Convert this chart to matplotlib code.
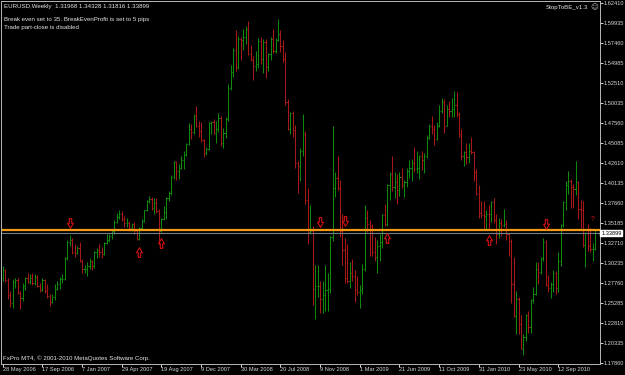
import matplotlib.pyplot as plt
from matplotlib.path import Path
from matplotlib import font_manager

# weekly EURUSD bars, week of 28 May 2006 onward
opens = [
    1.2835, 1.2930, 1.2805, 1.2620, 1.2520, 1.2785, 1.2805, 1.2650, 1.2590, 1.2730,
    1.2835, 1.2790, 1.2830, 1.2775, 1.2850, 1.2735, 1.2680, 1.2810, 1.2670, 1.2610,
    1.2535, 1.2595, 1.2700, 1.2760, 1.2820, 1.2825, 1.3085, 1.3285, 1.3300, 1.3150,
    1.3140, 1.3200, 1.3050, 1.2945, 1.2950, 1.2980, 1.3050, 1.2980, 1.3150, 1.3180,
    1.3150, 1.3125, 1.3270, 1.3300, 1.3360, 1.3415, 1.3530, 1.3590, 1.3630, 1.3560,
    1.3510, 1.3520, 1.3450, 1.3500, 1.3420, 1.3320, 1.3450, 1.3540, 1.3670, 1.3790,
    1.3810, 1.3700, 1.3760, 1.3660, 1.3420, 1.3570, 1.3650, 1.3830, 1.3890, 1.4090,
    1.4265, 1.4160, 1.4195, 1.4290, 1.4360, 1.4495, 1.4680, 1.4640, 1.4840, 1.4710,
    1.4650, 1.4540, 1.4380, 1.4430, 1.4750, 1.4760, 1.4630, 1.4680, 1.4820, 1.4510,
    1.4630, 1.4800, 1.5190, 1.5380, 1.5660, 1.5440, 1.5790, 1.5780, 1.5820, 1.5920,
    1.5600, 1.5530, 1.5460, 1.5480, 1.5770, 1.5540, 1.5750, 1.5440, 1.5600, 1.5790,
    1.5640, 1.5780, 1.5850, 1.5700, 1.5550, 1.5010, 1.4680, 1.4870, 1.4670, 1.4260,
    1.4220, 1.4410, 1.4620, 1.3800, 1.3400, 1.3420, 1.2700, 1.2730, 1.2740, 1.2580,
    1.2620, 1.2690, 1.2700, 1.3340, 1.3950, 1.4070, 1.3950, 1.3420, 1.3180, 1.2840,
    1.2800, 1.2900, 1.2860, 1.2680, 1.2660, 1.2680, 1.2950, 1.3580, 1.3500, 1.3480,
    1.3150, 1.3100, 1.3230, 1.3280, 1.3610, 1.3500, 1.3990, 1.4120, 1.3960, 1.4020,
    1.3920, 1.4080, 1.3980, 1.4020, 1.4160, 1.4190, 1.4260, 1.4180, 1.4200, 1.4340,
    1.4290, 1.4340, 1.4570, 1.4710, 1.4680, 1.4560, 1.4720, 1.4900, 1.5010, 1.4720,
    1.4920, 1.4900, 1.4920, 1.4970, 1.4860, 1.4620, 1.4340, 1.4390, 1.4330, 1.4410,
    1.4390, 1.4140, 1.3870, 1.3640, 1.3610, 1.3600, 1.3630, 1.3620, 1.3770, 1.3550,
    1.3380, 1.3520, 1.3490, 1.3500, 1.3380, 1.3290, 1.2760, 1.2360, 1.2580, 1.2270,
    1.1960, 1.2110, 1.2380, 1.2230, 1.2560, 1.2640, 1.2940, 1.2910, 1.3080, 1.3280,
    1.2750, 1.2710, 1.2760, 1.2890, 1.2710, 1.3050, 1.3490, 1.3780, 1.3980, 1.4040,
    1.3960, 1.3940, 1.4020, 1.3690, 1.3670, 1.3240, 1.3390, 1.3230, 1.3190, 1.31968,
]
highs = [
    1.2980, 1.2950, 1.2830, 1.2675, 1.2820, 1.2840, 1.2830, 1.2670, 1.2770, 1.2850,
    1.2900, 1.2880, 1.2890, 1.2880, 1.2870, 1.2770, 1.2830, 1.2820, 1.2760, 1.2640,
    1.2630, 1.2760, 1.2800, 1.2850, 1.2880, 1.3100, 1.3310, 1.3367, 1.3330, 1.3250,
    1.3230, 1.3275, 1.3070, 1.2990, 1.3030, 1.3080, 1.3060, 1.3170, 1.3200, 1.3250,
    1.3220, 1.3280, 1.3380, 1.3380, 1.3420, 1.3550, 1.3640, 1.3680, 1.3660, 1.3600,
    1.3580, 1.3540, 1.3520, 1.3530, 1.3440, 1.3460, 1.3560, 1.3680, 1.3800, 1.3850,
    1.3840, 1.3830, 1.3820, 1.3690, 1.3580, 1.3720, 1.3840, 1.3910, 1.4110, 1.4280,
    1.4280, 1.4240, 1.4350, 1.4400, 1.4500, 1.4750, 1.4740, 1.4860, 1.4966, 1.4780,
    1.4760, 1.4550, 1.4450, 1.4770, 1.4780, 1.4800, 1.4780, 1.4870, 1.4840, 1.4690,
    1.4830, 1.5240, 1.5470, 1.5680, 1.5900, 1.5830, 1.5820, 1.5910, 1.5950, 1.6020,
    1.5720, 1.5580, 1.5640, 1.5800, 1.5820, 1.5790, 1.5790, 1.5620, 1.5820, 1.5910,
    1.5800, 1.6038, 1.5900, 1.5780, 1.5630, 1.5050, 1.4890, 1.4900, 1.4730, 1.4280,
    1.4440, 1.4867, 1.4650, 1.3950, 1.3740, 1.3480, 1.3000, 1.3000, 1.2800, 1.2800,
    1.3000, 1.2900, 1.3350, 1.4719, 1.4150, 1.4340, 1.4050, 1.3620, 1.3330, 1.3260,
    1.3030, 1.3070, 1.2930, 1.2860, 1.2750, 1.3010, 1.3738, 1.3680, 1.3550, 1.3500,
    1.3340, 1.3300, 1.3380, 1.3630, 1.3750, 1.4000, 1.4150, 1.4340, 1.4140, 1.4120,
    1.4140, 1.4200, 1.4050, 1.4200, 1.4300, 1.4310, 1.4450, 1.4400, 1.4360, 1.4410,
    1.4380, 1.4600, 1.4740, 1.4840, 1.4730, 1.4770, 1.4970, 1.5060, 1.5050, 1.4970,
    1.5020, 1.5060, 1.5144, 1.5140, 1.4890, 1.4680, 1.4410, 1.4510, 1.4510, 1.4580,
    1.4410, 1.4180, 1.3990, 1.3790, 1.3790, 1.3680, 1.3740, 1.3790, 1.3830, 1.3620,
    1.3580, 1.3560, 1.3690, 1.3550, 1.3390, 1.3320, 1.3090, 1.2670, 1.2600, 1.2380,
    1.2140, 1.2390, 1.2420, 1.2580, 1.2720, 1.3030, 1.3030, 1.3100, 1.3330, 1.3300,
    1.2870, 1.2780, 1.2930, 1.2920, 1.3150, 1.3500, 1.3790, 1.4030, 1.4160, 1.4060,
    1.4000, 1.4282, 1.4030, 1.3800, 1.3790, 1.3400, 1.3500, 1.3450, 1.3270, 1.34328,
]
lows = [
    1.2795, 1.2780, 1.2570, 1.2480, 1.2460, 1.2705, 1.2630, 1.2455, 1.2550, 1.2690,
    1.2770, 1.2760, 1.2750, 1.2750, 1.2720, 1.2660, 1.2670, 1.2650, 1.2590, 1.2485,
    1.2520, 1.2560, 1.2680, 1.2700, 1.2770, 1.2810, 1.3060, 1.3230, 1.3130, 1.3100,
    1.3130, 1.3030, 1.2890, 1.2900, 1.2865, 1.2940, 1.2930, 1.2960, 1.3080, 1.3100,
    1.3080, 1.3120, 1.3250, 1.3280, 1.3320, 1.3380, 1.3520, 1.3560, 1.3540, 1.3470,
    1.3460, 1.3410, 1.3410, 1.3380, 1.3310, 1.3300, 1.3440, 1.3530, 1.3660, 1.3760,
    1.3680, 1.3630, 1.3640, 1.3260, 1.3400, 1.3550, 1.3560, 1.3790, 1.3860, 1.4060,
    1.4050, 1.4060, 1.4180, 1.4180, 1.4340, 1.4480, 1.4560, 1.4620, 1.4700, 1.4580,
    1.4520, 1.4330, 1.4360, 1.4420, 1.4620, 1.4620, 1.4500, 1.4640, 1.4470, 1.4440,
    1.4570, 1.4780, 1.5160, 1.5320, 1.5400, 1.5420, 1.5530, 1.5650, 1.5730, 1.5590,
    1.5520, 1.5290, 1.5400, 1.5430, 1.5480, 1.5370, 1.5310, 1.5390, 1.5530, 1.5620,
    1.5620, 1.5770, 1.5630, 1.5510, 1.4980, 1.4660, 1.4620, 1.4580, 1.4200, 1.3880,
    1.4040, 1.4350, 1.3750, 1.3260, 1.3380, 1.2500, 1.2330, 1.2600, 1.2400, 1.2400,
    1.2420, 1.2420, 1.2650, 1.3290, 1.3840, 1.3920, 1.3340, 1.3000, 1.2770, 1.2770,
    1.2710, 1.2800, 1.2540, 1.2620, 1.2457, 1.2630, 1.2920, 1.3400, 1.3110, 1.3110,
    1.3040, 1.2890, 1.3050, 1.3200, 1.3480, 1.3480, 1.3800, 1.3910, 1.3820, 1.3750,
    1.3850, 1.3950, 1.3840, 1.3960, 1.4070, 1.4040, 1.4150, 1.4130, 1.4060, 1.4170,
    1.4130, 1.4320, 1.4560, 1.4620, 1.4480, 1.4540, 1.4700, 1.4870, 1.4630, 1.4710,
    1.4830, 1.4830, 1.4830, 1.4830, 1.4580, 1.4300, 1.4220, 1.4250, 1.4260, 1.4370,
    1.4030, 1.3860, 1.3580, 1.3580, 1.3440, 1.3440, 1.3440, 1.3530, 1.3520, 1.3260,
    1.3330, 1.3350, 1.3470, 1.3310, 1.3110, 1.2520, 1.2350, 1.2140, 1.2140, 1.1950,
    1.1876, 1.2050, 1.2150, 1.2150, 1.2520, 1.2620, 1.2760, 1.2880, 1.3050, 1.2730,
    1.2660, 1.2590, 1.2660, 1.2630, 1.2660, 1.2980, 1.3470, 1.3670, 1.3870, 1.3700,
    1.3700, 1.3860, 1.3570, 1.3450, 1.3220, 1.2969, 1.3170, 1.3150, 1.3050, 1.31816,
]
closes = [
    1.2930, 1.2805, 1.2620, 1.2520, 1.2785, 1.2805, 1.2650, 1.2590, 1.2730, 1.2835,
    1.2790, 1.2830, 1.2775, 1.2850, 1.2735, 1.2680, 1.2810, 1.2670, 1.2610, 1.2535,
    1.2595, 1.2700, 1.2760, 1.2820, 1.2825, 1.3085, 1.3285, 1.3300, 1.3150, 1.3140,
    1.3200, 1.3050, 1.2945, 1.2950, 1.2980, 1.3050, 1.2980, 1.3150, 1.3180, 1.3150,
    1.3125, 1.3270, 1.3300, 1.3360, 1.3415, 1.3530, 1.3590, 1.3630, 1.3560, 1.3510,
    1.3520, 1.3450, 1.3500, 1.3420, 1.3320, 1.3450, 1.3540, 1.3670, 1.3790, 1.3810,
    1.3700, 1.3760, 1.3660, 1.3420, 1.3570, 1.3650, 1.3830, 1.3890, 1.4090, 1.4265,
    1.4160, 1.4195, 1.4290, 1.4360, 1.4495, 1.4680, 1.4640, 1.4840, 1.4710, 1.4650,
    1.4540, 1.4380, 1.4430, 1.4750, 1.4760, 1.4630, 1.4680, 1.4820, 1.4510, 1.4630,
    1.4800, 1.5190, 1.5380, 1.5660, 1.5440, 1.5790, 1.5780, 1.5820, 1.5920, 1.5600,
    1.5530, 1.5460, 1.5480, 1.5770, 1.5540, 1.5750, 1.5440, 1.5600, 1.5790, 1.5640,
    1.5780, 1.5850, 1.5700, 1.5550, 1.5010, 1.4680, 1.4870, 1.4670, 1.4260, 1.4220,
    1.4410, 1.4620, 1.3800, 1.3400, 1.3420, 1.2700, 1.2730, 1.2740, 1.2580, 1.2620,
    1.2690, 1.2700, 1.3340, 1.3950, 1.4070, 1.3950, 1.3420, 1.3180, 1.2840, 1.2800,
    1.2900, 1.2860, 1.2680, 1.2660, 1.2680, 1.2950, 1.3580, 1.3500, 1.3480, 1.3150,
    1.3100, 1.3230, 1.3280, 1.3610, 1.3500, 1.3990, 1.4120, 1.3960, 1.4020, 1.3920,
    1.4080, 1.3980, 1.4020, 1.4160, 1.4190, 1.4260, 1.4180, 1.4200, 1.4340, 1.4290,
    1.4340, 1.4570, 1.4710, 1.4680, 1.4560, 1.4720, 1.4900, 1.5010, 1.4720, 1.4920,
    1.4900, 1.4920, 1.4970, 1.4860, 1.4620, 1.4340, 1.4390, 1.4330, 1.4410, 1.4390,
    1.4140, 1.3870, 1.3640, 1.3610, 1.3600, 1.3630, 1.3620, 1.3770, 1.3550, 1.3380,
    1.3520, 1.3490, 1.3500, 1.3380, 1.3290, 1.2760, 1.2360, 1.2580, 1.2270, 1.1960,
    1.2110, 1.2380, 1.2230, 1.2560, 1.2640, 1.2940, 1.2910, 1.3080, 1.3280, 1.2750,
    1.2710, 1.2760, 1.2890, 1.2710, 1.3050, 1.3490, 1.3780, 1.3980, 1.4040, 1.3960,
    1.3940, 1.4020, 1.3690, 1.3670, 1.3240, 1.3390, 1.3230, 1.3190, 1.31968, 1.33899,
]

date_ticks = [0, 16, 32, 48, 64, 80, 96, 112, 128, 144, 160, 176, 192, 208, 224]
date_labels = ["28 May 2006", "17 Sep 2006", "7 Jan 2007", "29 Apr 2007", "19 Aug 2007",
               "9 Dec 2007", "30 Mar 2008", "20 Jul 2008", "9 Nov 2008", "1 Mar 2009",
               "21 Jun 2009", "11 Oct 2009", "31 Jan 2010", "23 May 2010", "12 Sep 2010"]
price_ticks = [1.62410, 1.59935, 1.57460, 1.54985, 1.52510, 1.50035, 1.47560, 1.45085,
               1.42610, 1.40135, 1.37660, 1.35185, 1.32710, 1.30235, 1.27760, 1.25285,
               1.22810, 1.20335, 1.17860]

down_x = [27, 128, 138, 219]
down_y = [1.3515, 1.3531, 1.3543, 1.3502]
up_x = [55, 64, 155, 196]
up_y = [1.3152, 1.3264, 1.3325, 1.3304]
stop_level = 1.3430
bid = 1.33899

# font: pick a narrow one if the system has it
names = set(f.name for f in font_manager.fontManager.ttflist)
if 'Liberation Sans Narrow' in names:
    fam, fs, fs_ax = 'Liberation Sans Narrow', 5.2, 5.1
else:
    fam, fs, fs_ax = 'Liberation Sans', 4.4, 4.1
plt.rcParams['font.family'] = [fam, 'DejaVu Sans']

W, H = 625, 375
fig = plt.figure(figsize=(W / 100, H / 100), dpi=100, facecolor='black')
ax = fig.add_axes([1 / W, 11.5 / H, 599 / W, 362.5 / H])
ax.set_facecolor('black')

up_col = '#0f8a0f'
dn_col = '#a81818'
for i in range(len(closes)):
    c = up_col if closes[i] >= opens[i] else dn_col
    ax.vlines(i, lows[i], highs[i], color=c, lw=0.75)
    ax.hlines(opens[i], i - 0.45, i, color=c, lw=0.75)
    ax.hlines(closes[i], i, i + 0.45, color=c, lw=0.75)

ax.axhline(stop_level, color='#f39a12', lw=1.6)
ax.axhline(bid, color='#6f7f8f', lw=0.8)

# hollow block arrows
dn_path = Path([(-0.25, 1), (0.25, 1), (0.25, 0.05), (0.6, 0.05), (0, -1),
                (-0.6, 0.05), (-0.25, 0.05), (-0.25, 1)])
up_path = Path([(x, -y) for x, y in dn_path.vertices])
ax.plot(down_x, down_y, ls='none', marker=dn_path, ms=7, mfc='none', mec='#d21010', mew=0.8)
ax.plot(up_x, up_y, ls='none', marker=up_path, ms=7, mfc='none', mec='#d21010', mew=0.8)
ax.text(238, 1.3564, '?', color='#d21010', fontsize=fs + 0.5, ha='center', va='center')

ax.set_xlim(-0.69, 240.85)
ax.set_ylim(1.1776, 1.6262)

for s in ax.spines.values():
    s.set_color('#b8b8b8')
    s.set_linewidth(0.7)

ax.yaxis.tick_right()
ax.set_yticks(price_ticks)
ax.set_yticklabels(['%.5f' % p for p in price_ticks])
ax.set_xticks(date_ticks)
ax.set_xticklabels(date_labels, ha='left')
ax.tick_params(colors='#d8d8d8', labelsize=fs_ax, length=2, width=0.7, pad=0.8)

# current price box
ax.text(1.002, bid, '%.5f' % bid, transform=ax.get_yaxis_transform(), color='black',
        fontsize=fs_ax, va='center', ha='left',
        bbox=dict(facecolor='white', edgecolor='white', pad=0.6))

txt = '#e6e6e6'
fig.text(4 / W, 1 - 6.5 / H, 'EURUSD,Weekly  1.31968 1.34328 1.31816 1.33899',
         color=txt, fontsize=fs, va='center')
fig.text(4 / W, 1 - 20 / H, 'Break even set to 35. BreakEvenProfit is set to 5 pips',
         color=txt, fontsize=fs, va='center')
fig.text(4 / W, 1 - 27.5 / H, 'Trade part-close is disabled',
         color=txt, fontsize=fs, va='center')
fig.text(588 / W, 1 - 7 / H, 'StopToBE_v1.3', color=txt, fontsize=fs, va='center', ha='right')
fig.text(594 / W, 1 - 7 / H, '\u263a', color='#c0c0c0', fontsize=fs + 1, va='center', ha='center',
         family='DejaVu Sans')
fig.text(3 / W, 1 - 358 / H, 'FxPro MT4, \u00a9 2001-2010 MetaQuotes Software Corp.',
         color=txt, fontsize=fs, va='center')

fig.savefig('out.png', dpi=100, facecolor='black')
